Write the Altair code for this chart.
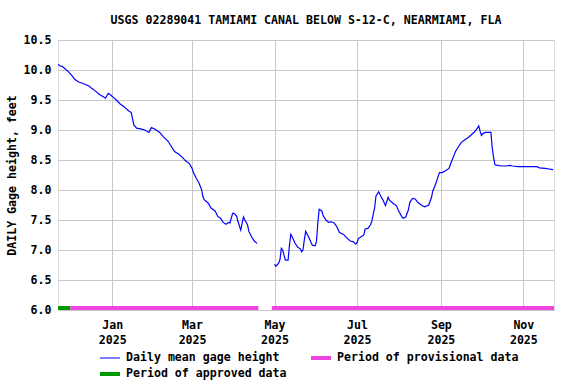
import altair as alt
import pandas as pd

TITLE = "USGS 02289041 TAMIAMI CANAL BELOW S-12-C, NEARMIAMI, FLA"
Y_TITLE = "DAILY Gage height, feet"

# Daily mean gage height, before the data gap
dates_a = ["2024-11-22", "2024-11-23", "2024-11-25", "2024-11-27", "2024-11-30",
           "2024-12-02", "2024-12-04", "2024-12-07", "2024-12-10", "2024-12-13",
           "2024-12-15", "2024-12-17", "2024-12-20", "2024-12-22", "2024-12-25",
           "2024-12-27", "2024-12-28", "2024-12-29", "2024-12-31", "2025-01-02",
           "2025-01-04", "2025-01-07", "2025-01-09", "2025-01-11", "2025-01-13",
           "2025-01-15", "2025-01-16", "2025-01-17", "2025-01-19", "2025-01-22",
           "2025-01-25", "2025-01-28", "2025-01-30", "2025-02-02", "2025-02-05",
           "2025-02-08", "2025-02-11", "2025-02-13", "2025-02-16", "2025-02-19",
           "2025-02-22", "2025-02-24", "2025-02-27", "2025-03-01", "2025-03-02",
           "2025-03-04", "2025-03-06", "2025-03-08", "2025-03-09", "2025-03-10",
           "2025-03-13", "2025-03-15", "2025-03-18", "2025-03-20", "2025-03-22",
           "2025-03-24", "2025-03-26", "2025-03-28", "2025-03-29", "2025-03-31",
           "2025-04-01", "2025-04-03", "2025-04-04", "2025-04-06", "2025-04-08",
           "2025-04-09", "2025-04-11", "2025-04-12", "2025-04-14", "2025-04-16",
           "2025-04-18"]
vals_a = [10.10, 10.07, 10.06, 10.02, 9.96,
          9.91, 9.85, 9.80, 9.78, 9.75,
          9.73, 9.69, 9.64, 9.60, 9.56,
          9.53, 9.57, 9.61, 9.58, 9.54,
          9.50, 9.43, 9.40, 9.36, 9.32,
          9.29, 9.18, 9.08, 9.03, 9.02,
          9.00, 8.96, 9.04, 9.01, 8.96,
          8.88, 8.82, 8.75, 8.64, 8.60,
          8.54, 8.49, 8.44, 8.36, 8.29,
          8.20, 8.12, 8.01, 7.89, 7.84,
          7.78, 7.70, 7.65, 7.56, 7.53,
          7.46, 7.43, 7.46, 7.45, 7.61,
          7.61, 7.56, 7.47, 7.33, 7.55,
          7.50, 7.42, 7.31, 7.22, 7.15,
          7.11]

# Daily mean gage height, after the data gap
dates_b = ["2025-05-01", "2025-05-02", "2025-05-04", "2025-05-05", "2025-05-06",
           "2025-05-07", "2025-05-08", "2025-05-09", "2025-05-11", "2025-05-12",
           "2025-05-13", "2025-05-14", "2025-05-16", "2025-05-18", "2025-05-20",
           "2025-05-21", "2025-05-22", "2025-05-23", "2025-05-24", "2025-05-25",
           "2025-05-27", "2025-05-28", "2025-05-29", "2025-05-31", "2025-06-01",
           "2025-06-02", "2025-06-03", "2025-06-05", "2025-06-06", "2025-06-08",
           "2025-06-10", "2025-06-12", "2025-06-14", "2025-06-16", "2025-06-18",
           "2025-06-21", "2025-06-23", "2025-06-26", "2025-06-28", "2025-06-30",
           "2025-07-01", "2025-07-02", "2025-07-04", "2025-07-06", "2025-07-07",
           "2025-07-09", "2025-07-11", "2025-07-12", "2025-07-14", "2025-07-15",
           "2025-07-17", "2025-07-18", "2025-07-20", "2025-07-22", "2025-07-24",
           "2025-07-25", "2025-07-28", "2025-07-30", "2025-08-01", "2025-08-03",
           "2025-08-04", "2025-08-06", "2025-08-08", "2025-08-09", "2025-08-11",
           "2025-08-13", "2025-08-15", "2025-08-18", "2025-08-20", "2025-08-23",
           "2025-08-25", "2025-08-26", "2025-08-28", "2025-08-30", "2025-08-31",
           "2025-09-02", "2025-09-05", "2025-09-07", "2025-09-08", "2025-09-10",
           "2025-09-12", "2025-09-14", "2025-09-16", "2025-09-19", "2025-09-21",
           "2025-09-24", "2025-09-26", "2025-09-28", "2025-09-29", "2025-09-30",
           "2025-10-01", "2025-10-02", "2025-10-04", "2025-10-06", "2025-10-08",
           "2025-10-09", "2025-10-10", "2025-10-11", "2025-10-13", "2025-10-16",
           "2025-10-19", "2025-10-22", "2025-10-24", "2025-10-28", "2025-11-02",
           "2025-11-11", "2025-11-13", "2025-11-17", "2025-11-20", "2025-11-23"]
vals_b = [6.76, 6.73, 6.78, 6.84, 7.03,
          7.00, 6.91, 6.83, 6.83, 7.08,
          7.26, 7.22, 7.12, 7.05, 7.02,
          6.97, 7.00, 7.17, 7.31, 7.27,
          7.18, 7.12, 7.08, 7.07, 7.14,
          7.45, 7.68, 7.65, 7.57, 7.50,
          7.46, 7.47, 7.45, 7.39, 7.29,
          7.26, 7.21, 7.15, 7.14, 7.10,
          7.12, 7.19, 7.22, 7.25, 7.35,
          7.36, 7.42, 7.49, 7.70, 7.90,
          7.97, 7.92, 7.84, 7.74, 7.88,
          7.83, 7.77, 7.74, 7.64, 7.56,
          7.53, 7.55, 7.67, 7.79, 7.86,
          7.85, 7.79, 7.74, 7.72, 7.75,
          7.87, 7.98, 8.09, 8.23, 8.29,
          8.29, 8.33, 8.36, 8.42, 8.54,
          8.65, 8.72, 8.79, 8.84, 8.87,
          8.93, 8.97, 9.03, 9.07, 8.98,
          8.91, 8.94, 8.96, 8.96, 8.96,
          8.70, 8.54, 8.42, 8.41, 8.40,
          8.40, 8.41, 8.40, 8.39, 8.39,
          8.39, 8.37, 8.36, 8.35, 8.34]

# Data-status periods
period_names = ["Period of approved data", "Period of provisional data", "Period of provisional data"]
period_start = ["2024-11-21T20:00:00", "2024-12-01T00:00:00", "2025-04-29T00:00:00"]
period_end = ["2024-12-01T00:00:00", "2025-04-19T00:00:00", "2025-11-23T16:00:00"]

series_names = ["Daily mean gage height", "Period of provisional data", "Period of approved data"]
series_colors = ["#0000ff", "#ee44dd", "#009900"]
series_widths = [1.2, 4, 4]

x_domain = ["2024-11-21T20:00:00", "2025-11-23T16:00:00"]
y_ticks = [6.0, 6.5, 7.0, 7.5, 8.0, 8.5, 9.0, 9.5, 10.0, 10.5]

FONT = "DejaVu Sans Mono"
FS = 11.6

line_df = pd.DataFrame({
    "date": pd.to_datetime(dates_a + dates_b, format="%Y-%m-%d"),
    "value": vals_a + vals_b,
    "seg": ["a"] * len(dates_a) + ["b"] * len(dates_b),
    "series": ["Daily mean gage height"] * (len(dates_a) + len(dates_b)),
})
per_df = pd.DataFrame({
    "start": pd.to_datetime(period_start, format="%Y-%m-%dT%H:%M:%S"),
    "end": pd.to_datetime(period_end, format="%Y-%m-%dT%H:%M:%S"),
    "series": period_names,
    "value": [6.0] * len(period_names),
})

x_scale = alt.Scale(domain=x_domain)
y_scale = alt.Scale(domain=[6.0, 10.5], nice=False, zero=False)
color_scale = alt.Scale(domain=series_names, range=series_colors)
sw_scale = alt.Scale(type="ordinal", domain=series_names, range=series_widths)

tick_dates = [alt.DateTime(year=2025, month=m, date=1) for m in [1, 3, 5, 7, 9, 11]]

axis_font = dict(labelFont=FONT, labelFontSize=FS, labelFontWeight="bold", labelColor="black",
                 titleFont=FONT, titleFontSize=FS, titleFontWeight="bold", titleColor="black",
                 gridColor="#c8c8c8", gridWidth=1, gridOpacity=1, labelOverlap=False)

x_axis = alt.Axis(values=tick_dates, title=None, grid=True, ticks=False, domain=False,
                  labelExpr="[timeFormat(datum.value, '%b'), timeFormat(datum.value, '%Y')]",
                  labelPadding=9, labelLineHeight=15, **axis_font)
y_axis = alt.Axis(values=y_ticks, format=".1f", title=Y_TITLE, grid=True, ticks=False,
                  domain=False, labelPadding=7, titlePadding=6, tickCount=10, **axis_font)

legend = alt.Legend(title=None, orient="none", legendX=40, legendY=312, columns=2,
                    direction="horizontal", clipHeight=12,
                    columnPadding=22, rowPadding=4, symbolType="stroke", symbolSize=400,
                    labelFont=FONT, labelFontSize=FS, labelFontWeight="bold",
                    labelColor="black", labelOffset=4, padding=0, labelLimit=400,
                    values=series_names)

lines = alt.Chart(line_df).mark_line(clip=True, interpolate="linear").encode(
    x=alt.X("date:T", scale=x_scale, axis=x_axis),
    y=alt.Y("value:Q", scale=y_scale, axis=y_axis),
    detail="seg:N",
    color=alt.Color("series:N", scale=color_scale, legend=legend, sort=series_names),
    strokeWidth=alt.StrokeWidth("series:N", scale=sw_scale, legend=legend, sort=series_names),
)

bars = alt.Chart(per_df).mark_rule(clip=True, yOffset=-2, strokeCap="butt").encode(
    x=alt.X("start:T", scale=x_scale, axis=x_axis),
    x2="end:T",
    y=alt.Y("value:Q", scale=y_scale, axis=y_axis),
    color=alt.Color("series:N", scale=color_scale, legend=legend, sort=series_names),
    strokeWidth=alt.StrokeWidth("series:N", scale=sw_scale, legend=legend, sort=series_names),
)

chart = alt.layer(bars, lines).properties(
    width=496, height=270,
    title=alt.TitleParams(TITLE, font=FONT, fontSize=FS, fontWeight="bold", color="black",
                          anchor="middle", offset=7),
    padding={"left": 58, "top": 40, "right": 22, "bottom": 74},
    autosize=alt.AutoSizeParams(type="none"),
).configure_view(
    stroke="black", strokeWidth=1.2
).configure(background="white")

chart.save("out.html", embed_options={"renderer": "svg", "actions": False})
